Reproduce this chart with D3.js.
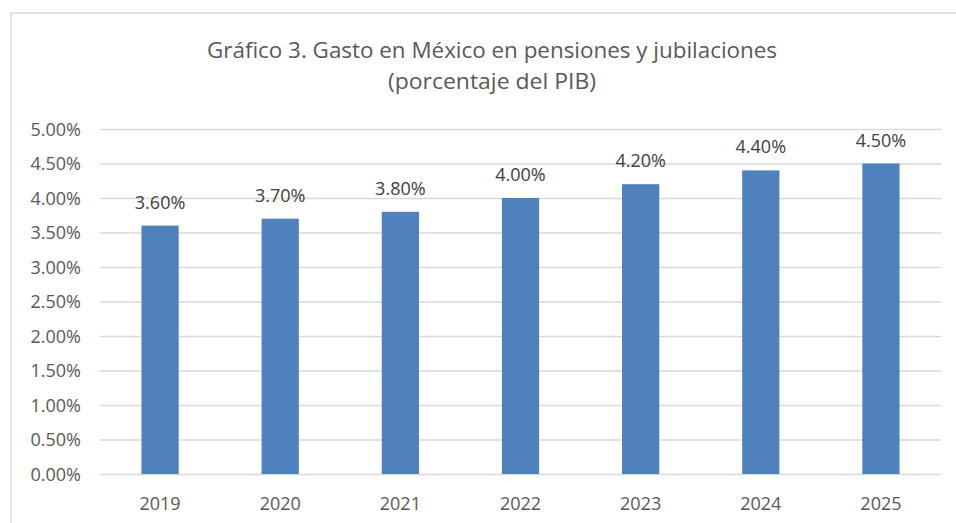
<!DOCTYPE html>
<html>
<head>
<meta charset="utf-8">
<script src="https://cdn.jsdelivr.net/npm/d3@7"></script>
<style>
  html, body { margin: 0; padding: 0; background: #fff; }
  svg { display: block; }
</style>
</head>
<body>
<svg id="chart" width="956" height="523"></svg>
<script>
const categories = ["2019", "2020", "2021", "2022", "2023", "2024", "2025"];
const values = [3.6, 3.7, 3.8, 4.0, 4.2, 4.4, 4.5];
const yTicks = [0, 0.5, 1, 1.5, 2, 2.5, 3, 3.5, 4, 4.5, 5];
const titleLines = ["Gráfico 3. Gasto en México en pensiones y jubilaciones", "(porcentaje del PIB)"];

const svg = d3.select("#chart");
const W = 956, H = 523;
const margin = { left: 100, right: 15, top: 129, bottom: 49 };
const textColor = "#595959";
const font = "'Open Sans', sans-serif";
const fs = 18;

// outer chart border
svg.append("rect")
  .attr("x", 11).attr("y", 13)
  .attr("width", 960).attr("height", 520)
  .attr("fill", "none").attr("stroke", "#D9D9D9").attr("stroke-width", 1.5);

const x = d3.scaleBand().domain(categories).range([margin.left, W - margin.right]).paddingInner(0.69).paddingOuter(0.345);
const y = d3.scaleLinear().domain([0, 5]).range([H - margin.bottom, margin.top]);

// gridlines
const grid = d3.axisLeft(y).tickValues(yTicks).tickSize(-(W - margin.right - margin.left)).tickFormat("");
svg.append("g").attr("transform", `translate(${margin.left},0)`).call(grid)
  .call(g => g.select(".domain").remove())
  .call(g => g.selectAll("line").attr("stroke", "#D9D9D9").attr("stroke-width", 1.3));

// y axis labels
const yAxis = d3.axisLeft(y).tickValues(yTicks).tickSize(0).tickPadding(19).tickFormat(d => d.toFixed(2) + "%");
svg.append("g").attr("transform", `translate(${margin.left},0)`).call(yAxis)
  .call(g => g.select(".domain").remove())
  .call(g => g.selectAll("text").attr("fill", textColor).attr("font-family", font).attr("font-size", fs).attr("dy", "0.35em"));

// x axis labels
const xAxis = d3.axisBottom(x).tickSize(0).tickPadding(23);
svg.append("g").attr("transform", `translate(0,${H - margin.bottom})`).call(xAxis)
  .call(g => g.select(".domain").remove())
  .call(g => g.selectAll("text").attr("fill", textColor).attr("font-family", font).attr("font-size", fs).attr("dy", "0.71em"));

// bars
svg.append("g").selectAll("rect").data(values).join("rect")
  .attr("x", (d, i) => x(categories[i]))
  .attr("y", d => y(d))
  .attr("width", x.bandwidth())
  .attr("height", d => y(0) - y(d))
  .attr("fill", "#4F81BD");

// value labels
svg.append("g").selectAll("text").data(values).join("text")
  .attr("x", (d, i) => x(categories[i]) + x.bandwidth() / 2)
  .attr("y", d => y(d) - 17)
  .attr("text-anchor", "middle")
  .attr("fill", "#404040")
  .attr("font-family", font).attr("font-size", fs)
  .text(d => d.toFixed(2) + "%");

// title
const title = svg.append("g");
const t1 = title.append("text").attr("x", 492).attr("y", 58).attr("text-anchor", "middle")
  .attr("fill", textColor).attr("font-family", font).attr("font-size", 21.5)
  .text(titleLines[0]);
const t2 = title.append("text").attr("x", 492).attr("y", 89).attr("text-anchor", "middle")
  .attr("fill", textColor).attr("font-family", font).attr("font-size", 21.5)
  .text(titleLines[1]);
// fit widths to reference
const targetW = [570, 208];
[t1, t2].forEach((t, i) => {
  const w = t.node().getComputedTextLength();
  if (w > 0) t.attr("textLength", targetW[i]).attr("lengthAdjust", "spacingAndGlyphs");
});
</script>
</body>
</html>
